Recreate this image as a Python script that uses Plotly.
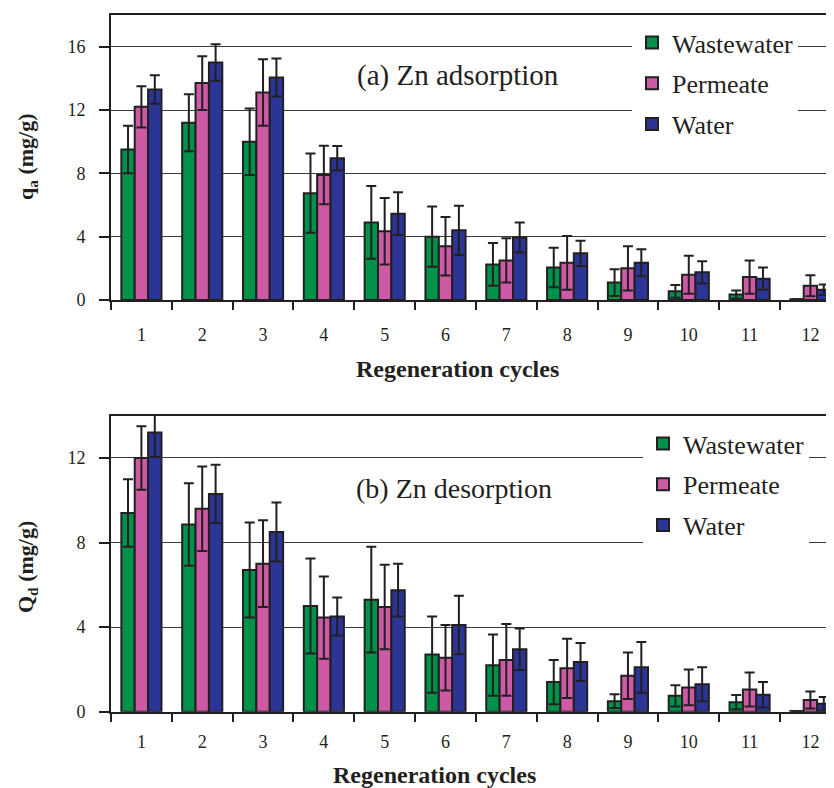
import plotly.graph_objects as go

cycles = [str(i) for i in range(1, 13)]
series_names = ["Wastewater", "Permeate", "Water"]
colors = ["#00914a", "#cc5aa4", "#2b3595"]

# (a) Zn adsorption, qa (mg/g)
ads_waste = [9.5, 11.2, 10.0, 6.75, 4.9, 4.0, 2.25, 2.05, 1.1, 0.55, 0.35, 0.05]
ads_perm = [12.2, 13.7, 13.1, 7.9, 4.35, 3.4, 2.5, 2.35, 2.0, 1.6, 1.45, 0.9]
ads_water = [13.3, 15.0, 14.05, 8.95, 5.45, 4.4, 3.95, 2.95, 2.35, 1.75, 1.35, 0.65]
ads_waste_err = [1.5, 1.8, 2.1, 2.5, 2.3, 1.9, 1.35, 1.25, 0.85, 0.4, 0.25, 0.0]
ads_perm_err = [1.3, 1.7, 2.1, 1.85, 2.1, 1.85, 1.4, 1.7, 1.4, 1.2, 1.05, 0.67]
ads_water_err = [0.9, 1.15, 1.2, 0.77, 1.35, 1.55, 0.95, 0.8, 0.85, 0.7, 0.7, 0.33]

# (b) Zn desorption, Qd (mg/g)
des_waste = [9.4, 8.85, 6.7, 5.0, 5.3, 2.7, 2.2, 1.4, 0.5, 0.75, 0.45, 0.03]
des_perm = [12.0, 9.6, 7.0, 4.45, 4.95, 2.55, 2.45, 2.05, 1.7, 1.15, 1.05, 0.55]
des_water = [13.2, 10.3, 8.5, 4.5, 5.75, 4.1, 2.95, 2.35, 2.1, 1.3, 0.8, 0.38]
des_waste_err = [1.6, 1.95, 2.25, 2.25, 2.5, 1.8, 1.45, 1.05, 0.33, 0.5, 0.34, 0.0]
des_perm_err = [1.5, 2.0, 2.05, 1.95, 2.0, 1.55, 1.7, 1.4, 1.1, 0.85, 0.8, 0.4]
des_water_err = [1.15, 1.38, 1.4, 0.9, 1.25, 1.38, 0.98, 0.9, 1.2, 0.8, 0.6, 0.32]

y_ticks_a = [0, 4, 8, 12, 16]
y_ticks_b = [0, 4, 8, 12]

TXT = "#231f20"
SERIF = "Liberation Serif"

fig = go.Figure()

def add_group(vals, errs, xa, ya, legend):
    for i, (name, v, e) in enumerate(zip(series_names, vals, errs)):
        fig.add_trace(go.Bar(
            x=cycles, y=v, name=name,
            xaxis=xa, yaxis=ya, legend=legend,
            legendgroup=legend + name,
            marker=dict(color=colors[i], line=dict(color=TXT, width=2)),
            error_y=dict(type="data", array=e, symmetric=True,
                         color=TXT, thickness=2, width=5),
        ))

add_group([ads_waste, ads_perm, ads_water],
          [ads_waste_err, ads_perm_err, ads_water_err], "x", "y", "legend")
add_group([des_waste, des_perm, des_water],
          [des_waste_err, des_perm_err, des_water_err], "x2", "y2", "legend2")

# page body has an 8px margin; work in reference-pixel coordinates
OFF = 8
W, H = 834 - OFF, 788 - OFF
def px_x(p):
    return (p - OFF) / W
def px_y(p):
    return 1 - (p - OFF) / H

xcommon = dict(
    type="category", range=[-0.5, 11.388], domain=[px_x(111), 1],
    showline=True, linecolor=TXT, linewidth=2, mirror=True,
    ticks="outside", tickson="boundaries", ticklen=8, tickwidth=1.5,
    tickcolor=TXT, showgrid=False,
    tickfont=dict(family=SERIF, size=18, color=TXT), automargin=False,
)
ycommon = dict(
    showline=True, linecolor=TXT, linewidth=2,
    ticks="outside", ticklen=10, tickwidth=1.5, tickcolor=TXT,
    showgrid=True, gridcolor="#3a3a3a", gridwidth=1, zeroline=False,
    tickfont=dict(family=SERIF, size=18, color=TXT), automargin=False,
    ticklabelstandoff=10,
)

fig.update_layout(
    width=W, height=H,
    margin=dict(l=0, r=0, t=0, b=0),
    paper_bgcolor="white", plot_bgcolor="white",
    barmode="group", bargap=0.34, bargroupgap=0,
    font=dict(family=SERIF, color=TXT),
    xaxis=dict(**xcommon, anchor="y", ticklabelstandoff=17),
    xaxis2=dict(**xcommon, anchor="y2", ticklabelstandoff=13),
    yaxis=dict(**ycommon, range=[0, 18], tickvals=y_ticks_a,
               domain=[px_y(300), px_y(15)], anchor="x"),
    yaxis2=dict(**ycommon, range=[0, 14], tickvals=y_ticks_b,
                domain=[px_y(711.7), px_y(415.7)], anchor="x2"),
    legend=dict(x=px_x(632), y=px_y(19), xanchor="left", yanchor="top",
                bgcolor="white", borderwidth=0, tracegroupgap=4,
                font=dict(family=SERIF, size=26, color=TXT)),
    legend2=dict(x=px_x(643), y=px_y(420), xanchor="left", yanchor="top",
                 bgcolor="white", borderwidth=0, tracegroupgap=4,
                 font=dict(family=SERIF, size=26, color=TXT)),
    showlegend=True,
)

annots = [
    dict(text="(a) Zn adsorption", x=px_x(458), y=px_y(75), size=29),
    dict(text="(b) Zn desorption", x=px_x(454), y=px_y(488), size=28),
]
for a in annots:
    fig.add_annotation(xref="paper", yref="paper", x=a["x"], y=a["y"],
                       text=a["text"], showarrow=False, xanchor="center",
                       yanchor="middle",
                       font=dict(family=SERIF, size=a["size"], color=TXT))

titles = [
    dict(text="<b>Regeneration cycles</b>", x=px_x(457), y=px_y(369), ang=0, size=24),
    dict(text="<b>Regeneration cycles</b>", x=px_x(434), y=px_y(775), ang=0, size=24),
    dict(text="<b>q<sub>a</sub> (mg/g)</b>", x=px_x(27), y=px_y(157), ang=-90, size=22),
    dict(text="<b>Q<sub>d</sub> (mg/g)</b>", x=px_x(27), y=px_y(567), ang=-90, size=22),
]
for t in titles:
    fig.add_annotation(xref="paper", yref="paper", x=t["x"], y=t["y"],
                       text=t["text"], showarrow=False, textangle=t["ang"],
                       xanchor="center", yanchor="middle",
                       font=dict(family=SERIF, size=t["size"], color=TXT))

fig.write_html("out.html")
